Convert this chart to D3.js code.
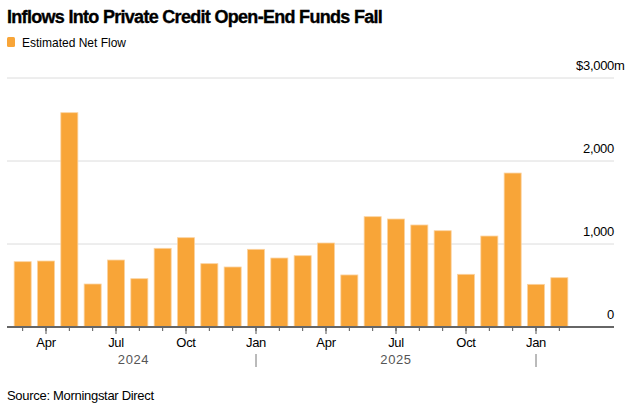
<!DOCTYPE html>
<html>
<head>
<meta charset="utf-8">
<script src="https://cdn.jsdelivr.net/npm/d3@7"></script>
<style>
  body { margin: 0; background: #fff; }
  text { font-family: "Liberation Sans", Arial, sans-serif; }
</style>
</head>
<body>
<div class="chart"></div>
<script>
// monthly estimated net flow, $m, Mar 2024 - Feb 2026
var months = ["2024-03","2024-04","2024-05","2024-06","2024-07","2024-08","2024-09","2024-10","2024-11","2024-12",
              "2025-01","2025-02","2025-03","2025-04","2025-05","2025-06","2025-07","2025-08","2025-09","2025-10","2025-11","2025-12",
              "2026-01","2026-02"];
var netFlow = [787, 795, 2582, 518, 807, 582, 948, 1076, 763, 723,
               936, 831, 859, 1012, 627, 1329, 1301, 1229, 1160, 635, 1096, 1855,
               514, 594];
var yTicks = [0, 1000, 2000, 3000];
var labelMonths = {"04": "Apr", "07": "Jul", "10": "Oct", "01": "Jan"};
var years = ["2024", "2025"];

var W = 633, H = 414;
var chart = {
  left: 7, right: 614, top: 78, bottom: 327
};

var svg = d3.select(".chart").append("svg")
  .attr("width", W)
  .attr("height", H);

var x = d3.scaleBand()
  .domain(months)
  .range([11, 571])
  .paddingInner(0.27)
  .paddingOuter(0.135);

var y = d3.scaleLinear()
  .domain([0, 3000])
  .range([chart.bottom, chart.top]);

// title + legend
svg.append("text")
  .attr("x", 7).attr("y", 23)
  .attr("font-size", 18).attr("font-weight", "bold")
  .attr("letter-spacing", -0.7)
  .attr("fill", "#000")
  .attr("stroke", "#000").attr("stroke-width", 0.35)
  .text("Inflows Into Private Credit Open-End Funds Fall");

svg.append("rect")
  .attr("x", 7).attr("y", 37).attr("width", 8).attr("height", 10)
  .attr("rx", 1.5)
  .attr("fill", "#f8a538");
svg.append("text")
  .attr("x", 22).attr("y", 47)
  .attr("font-size", 13.5)
  .attr("textLength", 104)
  .attr("lengthAdjust", "spacingAndGlyphs")
  .text("Estimated Net Flow");

// gridlines
svg.append("g").selectAll("line")
  .data(yTicks.filter(function(d){ return d > 0; }))
  .enter().append("line")
    .attr("x1", chart.left).attr("x2", chart.right)
    .attr("y1", function(d){ return y(d); })
    .attr("y2", function(d){ return y(d); })
    .attr("stroke", "#dcdcdc")
    .attr("stroke-width", 1);

// y labels, the unit hangs past the right edge on the top one
svg.append("g").selectAll("text")
  .data(yTicks)
  .enter().append("text")
    .attr("x", chart.right)
    .attr("y", function(d){ return y(d) - 8; })
    .attr("text-anchor", "end")
    .attr("font-size", 13)
    .attr("letter-spacing", -0.3)
    .text(function(d){ return (d === 3000 ? "$" : "") + d3.format(",")(d); });
svg.append("text")
  .attr("x", chart.right)
  .attr("y", y(3000) - 8)
  .attr("font-size", 13)
  .text("m");

// bars
svg.append("g").selectAll("rect")
  .data(netFlow)
  .enter().append("rect")
    .attr("x", function(d, i){ return x(months[i]); })
    .attr("y", function(d){ return y(d); })
    .attr("width", x.bandwidth())
    .attr("height", function(d){ return y(0) - y(d); })
    .attr("fill", "#f8a538")
    .attr("stroke", "#fbd3a0")
    .attr("stroke-width", 0.8);

// minor ticks on every month
var minor = d3.axisBottom(x).tickSize(4).tickFormat("");
var gMinor = svg.append("g")
  .attr("transform", "translate(0," + chart.bottom + ")")
  .call(minor);
gMinor.select(".domain").remove();
gMinor.selectAll("line").attr("stroke", "#555");

// labelled quarter ticks
var major = d3.axisBottom(x)
  .tickValues(months.filter(function(m){ return labelMonths[m.slice(5)]; }))
  .tickSize(7)
  .tickPadding(4)
  .tickFormat(function(m){ return labelMonths[m.slice(5)]; });
var gMajor = svg.append("g")
  .attr("transform", "translate(0," + chart.bottom + ")")
  .call(major);
gMajor.select(".domain").remove();
gMajor.selectAll("line").attr("stroke", "#555");
gMajor.selectAll("text")
  .attr("font-family", "Liberation Sans, Arial, sans-serif")
  .attr("font-size", 13)
  .attr("letter-spacing", -0.3)
  .attr("fill", "#000");

// baseline
svg.append("line")
  .attr("x1", chart.left).attr("x2", chart.right)
  .attr("y1", chart.bottom).attr("y2", chart.bottom)
  .attr("stroke", "#666")
  .attr("stroke-width", 2);

// year labels and separators
var sep = months.filter(function(m){ return m.slice(5) === "01"; })
  .map(function(m){ return x(m) + x.bandwidth() / 2; });
svg.append("g").selectAll("line")
  .data(sep)
  .enter().append("line")
    .attr("x1", function(d){ return d; }).attr("x2", function(d){ return d; })
    .attr("y1", 354).attr("y2", 367)
    .attr("stroke", "#777");
var yearStart = [x.range()[0], sep[0]];
var yearEnd = [sep[0], sep[1]];
svg.append("g").selectAll("text")
  .data(years)
  .enter().append("text")
    .attr("x", function(d, i){ return (yearStart[i] + yearEnd[i]) / 2; })
    .attr("y", 364)
    .attr("text-anchor", "middle")
    .attr("font-size", 13)
    .attr("letter-spacing", 0.6)
    .attr("fill", "#555")
    .text(function(d){ return d; });

// source
svg.append("text")
  .attr("x", 7).attr("y", 400)
  .attr("font-size", 13)
  .attr("letter-spacing", -0.3)
  .text("Source: Morningstar Direct");
</script>
</body>
</html>
